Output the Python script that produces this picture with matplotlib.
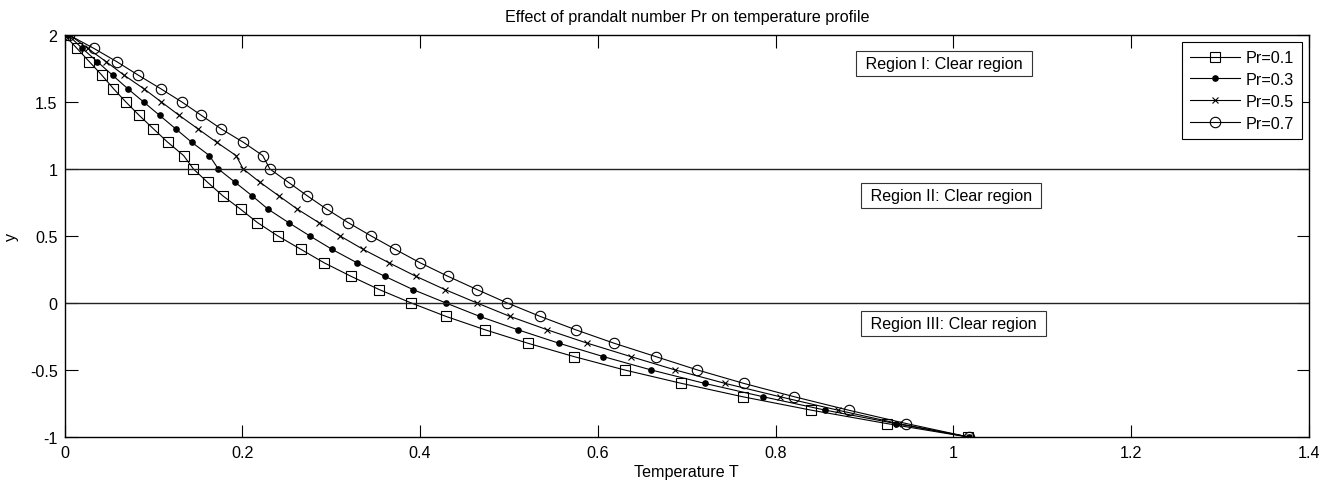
import matplotlib.pyplot as plt

plt.rcParams['font.family'] = ['Liberation Sans', 'DejaVu Sans']
plt.rcParams['axes.unicode_minus'] = False

# y positions of the markers (same for every curve)
y = [2.0, 1.9, 1.8, 1.7, 1.6, 1.5, 1.4, 1.3, 1.2, 1.1,
     1.0, 0.9, 0.8, 0.7, 0.6, 0.5, 0.4, 0.3, 0.2, 0.1,
     0.0, -0.1, -0.2, -0.3, -0.4, -0.5, -0.6, -0.7, -0.8, -0.9,
     -1.0]

t_pr01 = [0.000, 0.014, 0.028, 0.042, 0.055, 0.069, 0.084, 0.100, 0.116, 0.134,
          0.145, 0.161, 0.178, 0.198, 0.217, 0.240, 0.266, 0.292, 0.322, 0.354,
          0.390, 0.429, 0.473, 0.521, 0.573, 0.630, 0.694, 0.763, 0.840, 0.925,
          1.016]
t_pr03 = [0.004, 0.020, 0.037, 0.054, 0.071, 0.089, 0.107, 0.125, 0.143, 0.163,
          0.173, 0.192, 0.211, 0.229, 0.252, 0.276, 0.301, 0.329, 0.360, 0.392,
          0.429, 0.467, 0.510, 0.556, 0.606, 0.660, 0.720, 0.786, 0.856, 0.935,
          1.017]
t_pr05 = [0.006, 0.026, 0.047, 0.067, 0.089, 0.109, 0.129, 0.150, 0.171, 0.193,
          0.201, 0.220, 0.241, 0.262, 0.286, 0.310, 0.336, 0.365, 0.395, 0.428,
          0.464, 0.501, 0.543, 0.588, 0.637, 0.687, 0.743, 0.805, 0.870, 0.938,
          1.017]
t_pr07 = [0.005, 0.033, 0.059, 0.083, 0.108, 0.132, 0.154, 0.176, 0.201, 0.223,
          0.231, 0.252, 0.273, 0.295, 0.319, 0.345, 0.372, 0.400, 0.431, 0.464,
          0.498, 0.535, 0.575, 0.618, 0.665, 0.712, 0.764, 0.821, 0.882, 0.947,
          1.017]

xticks = [0, 0.2, 0.4, 0.6, 0.8, 1.0, 1.2, 1.4]
xtick_labels = ["0", "0.2", "0.4", "0.6", "0.8", "1", "1.2", "1.4"]
yticks = [-1, -0.5, 0, 0.5, 1, 1.5, 2]
ytick_labels = ["-1", "-0.5", "0", "0.5", "1", "1.5", "2"]

region_labels = ["Region I: Clear region", "Region II: Clear region", "Region III: Clear region"]
region_x = [0.896, 0.9015, 0.9015]
region_y = [1.788, 0.80, -0.155]
boundaries = [1, 0]

fs = 11.6

fig = plt.figure(figsize=(13.33, 4.85), dpi=100)
ax = fig.add_axes([0.0484, 0.097, 0.9336, 0.8288])

lw = 0.8
ax.plot(t_pr01, y, color='black', lw=lw, marker='s', ms=7, mfc='none', mew=0.8, label="Pr=0.1")
ax.plot(t_pr03, y, color='black', lw=lw, marker='o', ms=3.8, mfc='black', label="Pr=0.3")
ax.plot(t_pr05, y, color='black', lw=lw, marker='x', ms=4.5, mew=0.8, label="Pr=0.5")
ax.plot(t_pr07, y, color='black', lw=lw, marker='o', ms=7.5, mfc='none', mew=0.8, label="Pr=0.7")

for b in boundaries:
    ax.axhline(b, color='#222222', lw=1.0)

for txt, tx, ty in zip(region_labels, region_x, region_y):
    ax.text(tx, ty, " " + txt + " ", ha='left', va='center', fontsize=fs,
            bbox=dict(boxstyle='square,pad=0.3', fc='white', ec='#333333', lw=0.8))

ax.set_xlim(0, 1.4)
ax.set_ylim(-1, 2)
ax.set_xticks(xticks)
ax.set_xticklabels(xtick_labels)
ax.set_yticks(yticks)
ax.set_yticklabels(ytick_labels)
ax.tick_params(direction='in', length=9, width=0.8, top=True, right=True, labelsize=fs)
ax.tick_params(axis='x', pad=6)
ax.tick_params(axis='y', pad=5)
for s in ax.spines.values():
    s.set_linewidth(1.0)

ax.set_xlabel("Temperature T", fontsize=fs, labelpad=3)
ax.set_ylabel("y", fontsize=fs, labelpad=8)
ax.set_title("Effect of prandalt number Pr on temperature profile", fontsize=fs, pad=10)

leg = ax.legend(loc='upper right', fontsize=fs, fancybox=False, edgecolor='black',
                framealpha=1, handlelength=3.1, handletextpad=0.35, borderpad=0.5,
                borderaxespad=0.45, labelspacing=0.42)
leg.get_frame().set_linewidth(0.8)

fig.savefig("out.png", dpi=100)
